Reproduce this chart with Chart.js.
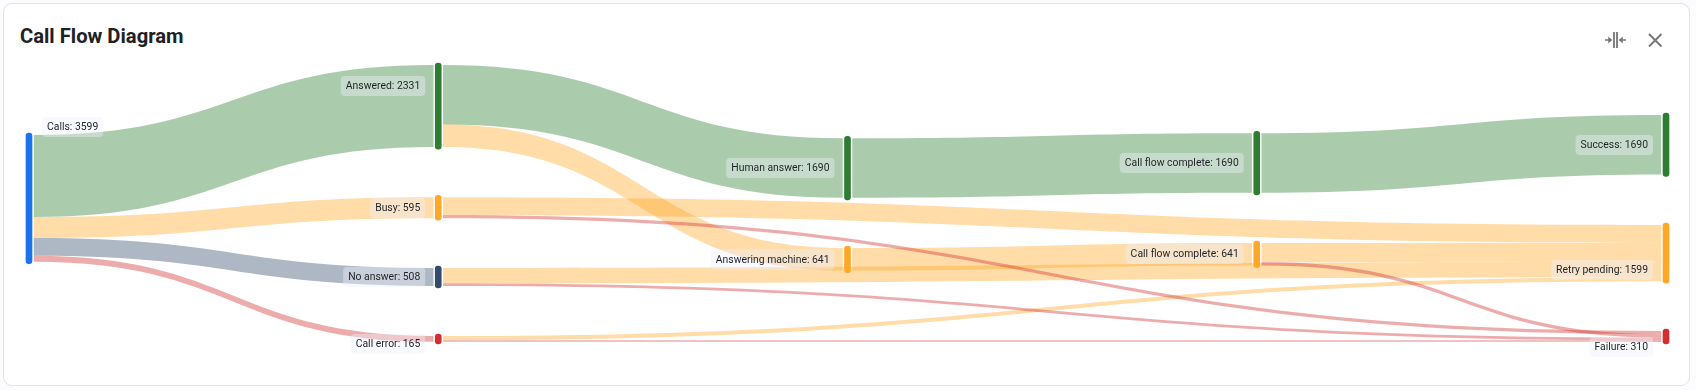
<!DOCTYPE html>
<html>
<head>
<meta charset="utf-8">
<script src="https://cdn.jsdelivr.net/npm/chart.js@4"></script>
<style>
html,body{margin:0;padding:0;width:1696px;height:390px;overflow:hidden;background:#fcfcfe;font-family:Roboto,sans-serif}
#card{position:absolute;left:3px;top:3px;width:1685px;height:381px;background:#fff;border:1px solid #e2e2e8;border-radius:9px}
#title{position:absolute;left:20px;top:22px;margin:0;font:700 20.2px/28px Roboto,sans-serif;color:#202124}
#chart{position:absolute;left:0;top:0}
svg{position:absolute;left:0;top:0}
</style>
</head>
<body>
<div id="card"></div>
<h1 id="title">Call Flow Diagram</h1>
<canvas id="chart" width="1696" height="390"></canvas>
<svg width="1696" height="390" fill="none" stroke="#757575">
  <path d="M1614 32v16M1617 32v16" stroke-width="1.8"/>
  <path d="M1605 40h5M1626 40h-5" stroke-width="1.6"/>
  <path d="M1612.3 40l-4-3.6v7.2zM1618.7 40l4-3.6v7.2z" fill="#757575" stroke="none"/>
  <path d="M1649 34l12.5 12.5M1661.5 34l-12.5 12.5" stroke-width="1.9"/>
</svg>
<script>
// Nodes
const nodeNames  = ['Calls','Answered','Busy','No answer','Call error','Human answer','Answering machine','Call flow complete','Call flow complete','Success','Retry pending','Failure'];
const nodeValues = [3599,2331,595,508,165,1690,641,1690,641,1690,1599,310];
const nodeColumn = [0,1,1,1,1,2,2,3,3,4,4,4];
const nodeTop    = [3835,1847,5605,7614,9545,3929,7045,3787,6903,3267,6392,9403];
const nodeColors = ['#1a73e8','#2e7d32','#ffa726','#344a6c','#d32f2f','#2e7d32','#ffa726','#2e7d32','#ffa726','#2e7d32','#ffa726','#d32f2f'];

// Links (order sets the stacking at each node)
const linkSource = [0,0,0,0,1,1,5,6,7,2,8,3,4,2,8,3,4];
const linkTarget = [1,2,3,4,5,6,7,8,9,10,10,10,10,11,11,11,11];
const linkValue  = [2331,595,508,165,1690,641,1690,641,1690,505,541,435,118,90,100,73,47];

// Label placement: vertical centre and side
const labelCentre = [127,86,208,277,344,168,259.5,163,254,145,270,347];
const labelOnRight = [true,false,false,false,false,false,false,false,false,false,false,false];

const PX_PER_UNIT = 0.0352;
const NODE_OVERHANG = 57;   // units by which a node bar exceeds its flow
const LINK_GAP = 4.8;       // px between a column centre and the ribbon end
const LINK_ALPHA = 0.4;
const LABEL_GAP = 13, LABEL_PAD = 5, LABEL_H = 20;

const sankeyPlugin = {
  id: 'sankey',
  beforeDatasetsDraw(chart) {
    const {ctx, scales:{x, y}} = chart;
    const outUsed = nodeValues.map(() => 0), inUsed = nodeValues.map(() => 0);
    ctx.save();
    ctx.globalAlpha = LINK_ALPHA;
    linkValue.forEach((v, i) => {
      const s = linkSource[i], t = linkTarget[i];
      const x0 = x.getPixelForValue(nodeColumn[s]) + LINK_GAP;
      const x1 = x.getPixelForValue(nodeColumn[t]) - LINK_GAP;
      const mx = (x0 + x1) / 2;
      const sT = y.getPixelForValue(nodeTop[s] + outUsed[s]);
      const sB = y.getPixelForValue(nodeTop[s] + outUsed[s] + v);
      const tT = y.getPixelForValue(nodeTop[t] + inUsed[t]);
      const tB = y.getPixelForValue(nodeTop[t] + inUsed[t] + v);
      outUsed[s] += v; inUsed[t] += v;
      ctx.beginPath();
      ctx.moveTo(x0, sT);
      ctx.bezierCurveTo(mx, sT, mx, tT, x1, tT);
      ctx.lineTo(x1, tB);
      ctx.bezierCurveTo(mx, tB, mx, sB, x0, sB);
      ctx.closePath();
      ctx.fillStyle = nodeColors[t];
      ctx.fill();
    });
    ctx.restore();
  },
  afterDatasetsDraw(chart) {
    const {ctx, scales:{x}} = chart;
    ctx.save();
    ctx.font = '400 10.4px Roboto, sans-serif';
    ctx.textBaseline = 'middle';
    ctx.textAlign = 'left';
    nodeNames.forEach((name, i) => {
      const text = name + ': ' + nodeValues[i];
      const w = ctx.measureText(text).width + LABEL_PAD * 2;
      const cx = x.getPixelForValue(nodeColumn[i]);
      const left = labelOnRight[i] ? cx + LABEL_GAP : cx - LABEL_GAP - w;
      const cy = labelCentre[i];
      ctx.fillStyle = 'rgba(238,241,250,0.42)';
      ctx.beginPath();
      ctx.roundRect(left, cy - LABEL_H / 2, w, LABEL_H, 4);
      ctx.fill();
      ctx.fillStyle = '#1f2328';
      ctx.fillText(text, left + LABEL_PAD, cy + 0.5);
    });
    ctx.restore();
  }
};

new Chart(document.getElementById('chart'), {
  type: 'bar',
  data: {
    datasets: [{
      label: 'Nodes',
      data: nodeNames.map((n, i) => ({
        x: nodeColumn[i],
        y: [nodeTop[i] - NODE_OVERHANG, nodeTop[i] + nodeValues[i] + NODE_OVERHANG]
      })),
      backgroundColor: nodeColors,
      barThickness: 6,
      borderRadius: 3,
      borderSkipped: false,
      clip: false
    }]
  },
  options: {
    responsive: false,
    animation: false,
    layout: {padding: {left: 29, right: 30, top: 0, bottom: 0}},
    plugins: {legend: {display: false}, tooltip: {enabled: false}, title: {display: false}},
    scales: {
      x: {type: 'linear', display: false, min: 0, max: 4, offset: false},
      y: {type: 'linear', display: false, reverse: true, min: 0, max: 390 / PX_PER_UNIT}
    }
  },
  plugins: [sankeyPlugin]
});
</script>
</body>
</html>
